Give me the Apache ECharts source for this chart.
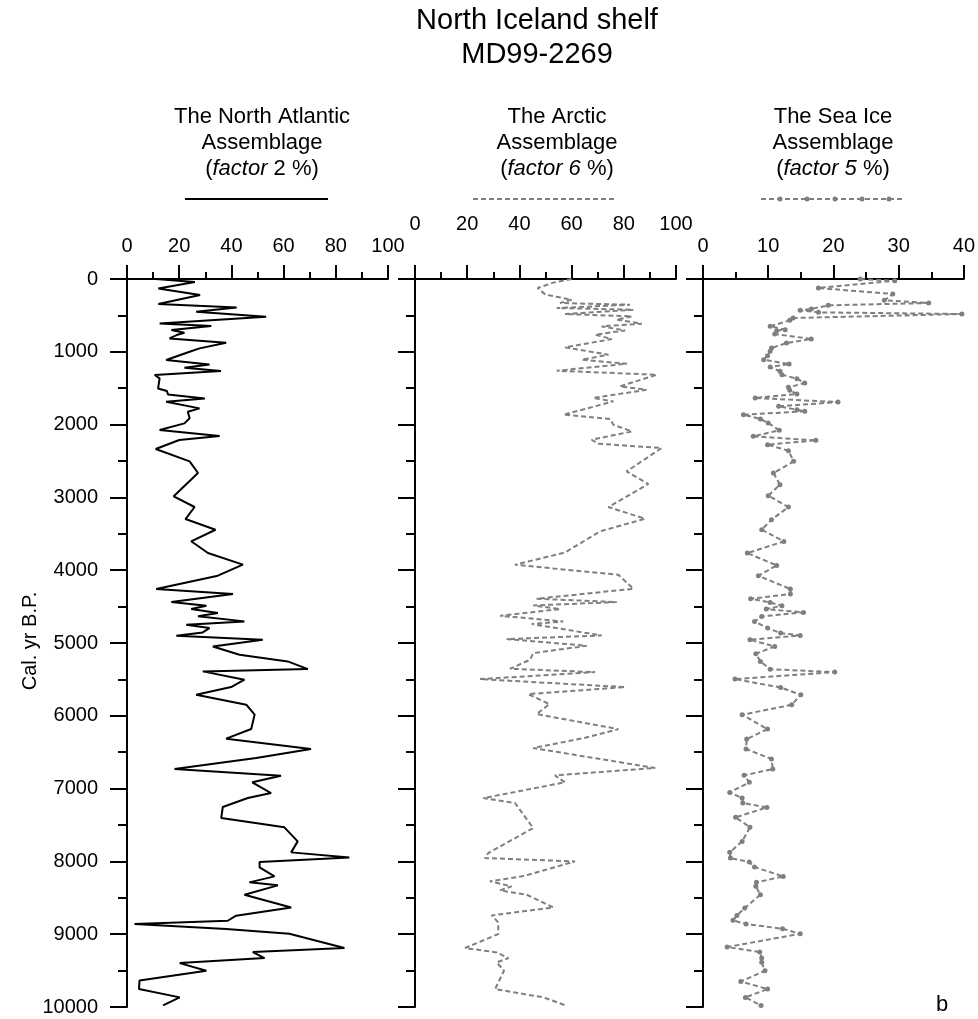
<!DOCTYPE html>
<html lang="en">
<head>
    <meta charset="UTF-8">
    <title>MD99-2269</title>
    <script src="https://cdn.jsdelivr.net/npm/echarts@6/dist/echarts.min.js"></script>
    <style>
        html, body {
            margin: 0;
            padding: 0;
            background: #fff;
        }

        #chart {
            width: 978px;
            height: 1019px;
        }
    </style>
</head>
<body>
<div id="chart"></div>

<script type="text/javascript">
    // [age (cal. yr B.P.), percent]
    const northAtlantic = [[0, 11], [40, 26], [129, 12], [220, 28], [343, 12], [390, 42], [449, 26.5], [518, 53.3],
        [610, 12.5], [646, 32.3], [700, 17], [738, 22], [770, 19], [816, 16.3], [875, 38], [953, 27.8], [999, 24],
        [1113, 15], [1173, 31.6], [1218, 22], [1264, 36], [1319, 10.6], [1365, 12.5], [1503, 11.9], [1539, 15.3],
        [1585, 15.7], [1640, 29.8], [1686, 15], [1777, 27.8], [1823, 23.3], [1914, 24], [1983, 22], [2074, 12.5],
        [2157, 35.5], [2212, 20], [2335, 11], [2505, 24], [2665, 27.2], [2985, 17.9], [3132, 25.9], [3297, 22.4],
        [3444, 33.9], [3603, 24.6], [3764, 31], [3924, 44.4], [4075, 34.8], [4259, 11.2], [4327, 40.6], [4436, 17],
        [4487, 30.4], [4533, 24.6], [4588, 34.8], [4634, 27.2], [4703, 45], [4749, 22.7], [4795, 31.6], [4855, 29],
        [4900, 18.9], [4955, 52], [5047, 32.9], [5161, 43.1], [5253, 61.6], [5358, 69.3], [5390, 29], [5504, 45],
        [5605, 39.9], [5710, 26.5], [5847, 45.7], [5984, 48.9], [6181, 47.6], [6314, 38], [6456, 70.5], [6580, 49.5],
        [6731, 18.2], [6823, 59], [6914, 48], [7061, 55.2], [7130, 46.3], [7253, 36.7], [7404, 36.1], [7532, 60.3],
        [7725, 65.4], [7876, 62.9], [7945, 85.2], [8009, 50.8], [8082, 50.8], [8206, 56.5], [8288, 46.9], [8329, 57.8],
        [8458, 45], [8632, 62.9], [8746, 41.8], [8815, 38.6], [8861, 2.9], [8929, 38], [8993, 62.2], [9190, 83.3],
        [9245, 48.2], [9328, 52.7], [9397, 20.2], [9502, 30.4], [9635, 4.8], [9754, 4.6], [9868, 20.2], [9978, 13.8]];

    const arctic = [[0, 60], [50, 53], [124, 47], [215, 50], [284, 60], [330, 55.6], [353, 82.4], [399, 54.3],
        [422, 83.7], [481, 57.5], [513, 83.1], [559, 77.2], [614, 86.9], [651, 71.5], [706, 80.5], [765, 69],
        [825, 75.4], [939, 57.5], [1040, 74.1], [1109, 63.9], [1164, 81.2], [1260, 54.3], [1315, 92.6], [1475, 78.5],
        [1521, 88.7], [1635, 68.3], [1681, 76], [1864, 56.9], [1924, 74.8], [2002, 76], [2093, 83.1], [2208, 67.7],
        [2263, 70.2], [2322, 94.5], [2642, 81.1], [2816, 89.4], [3132, 74.1], [3293, 88.1], [3467, 70.9], [3756, 57.5],
        [3925, 38.3], [4063, 77.9], [4255, 83.7], [4392, 46.6], [4438, 77.3], [4484, 45.3], [4534, 55.6], [4626, 32.6],
        [4704, 56.8], [4740, 44.7], [4896, 71.5], [4946, 35.1], [5038, 65.8], [5139, 45.3], [5230, 44.1], [5354, 36.4],
        [5400, 69], [5496, 24.9], [5606, 80.5], [5702, 43.4], [5840, 51.5], [5977, 46.6], [6183, 77.9], [6307, 64.5],
        [6443, 45.3], [6717, 92], [6818, 53.6], [6914, 57.5], [7130, 26.2], [7198, 38.3], [7542, 45.3], [7885, 28.1],
        [7954, 26.8], [8000, 61.3], [8197, 42.1], [8274, 28.7], [8343, 37], [8398, 32.6], [8458, 42.8], [8632, 53],
        [8742, 29.4], [8838, 31.9], [8998, 31.9], [9190, 19.2], [9250, 31.3], [9328, 35.8], [9387, 31.3], [9502, 34.1],
        [9754, 30.7], [9868, 49.2], [9978, 57.7]];

    const seaIce = [[0, 24.1], [23, 29.4], [124, 17.7], [206, 29.1], [293, 27.8], [330, 34.6], [362, 19.2], [412, 16.6],
        [430, 14.9], [458, 17.7], [481, 39.7], [536, 13.8], [568, 13.3], [650, 10.3], [696, 12.6], [710, 11.3],
        [755, 11], [824, 16.6], [879, 12.8], [948, 10.5], [994, 10.3], [1053, 9.9], [1108, 9.3], [1168, 13.2],
        [1209, 10.3], [1268, 11.8], [1314, 12.1], [1369, 14.4], [1429, 15.6], [1488, 13.1], [1529, 13.3], [1580, 14.4],
        [1635, 8], [1690, 20.7], [1749, 11.6], [1795, 14.4], [1818, 15.6], [1864, 6.2], [1923, 8.8], [1978, 10],
        [2079, 11.7], [2161, 7.7], [2216, 17.3], [2276, 9.9], [2358, 13.1], [2505, 13.9], [2665, 10.8], [2825, 11.8],
        [2976, 10], [3132, 13.1], [3307, 10.5], [3444, 9], [3605, 12.4], [3765, 6.8], [3934, 11.3], [4076, 8.5],
        [4259, 13.4], [4328, 13.4], [4392, 7.3], [4443, 10.3], [4488, 12.1], [4534, 9.7], [4580, 15.4], [4635, 9],
        [4704, 7.9], [4795, 9.9], [4864, 11.9], [4896, 14.9], [4955, 7.2], [5047, 11], [5148, 8.1], [5253, 8.8],
        [5359, 10.3], [5400, 20.2], [5496, 4.9], [5611, 11.9], [5711, 15], [5849, 13.6], [5986, 6], [6183, 9.9],
        [6320, 6.7], [6456, 6.6], [6594, 10.5], [6731, 10.7], [6818, 6.3], [6914, 7.1], [7052, 4.1], [7130, 6],
        [7198, 6.1], [7258, 9.8], [7395, 5], [7532, 7.2], [7725, 6], [7876, 4.1], [7954, 4.2], [8009, 7.1],
        [8078, 7.9], [8206, 12.3], [8288, 8.2], [8343, 8.1], [8458, 8.8], [8641, 6.4], [8742, 5.2], [8810, 4.6],
        [8861, 6.6], [8925, 12.2], [8994, 14.9], [9177, 3.7], [9245, 8.7], [9328, 9], [9387, 9], [9502, 9.5],
        [9649, 5.8], [9754, 9.9], [9868, 6.5], [9978, 8.9]];

    const ageMajorTicks = [0, 1000, 2000, 3000, 4000, 5000, 6000, 7000, 8000, 9000, 10000];
    const ageMinorTicks = [500, 1500, 2500, 3500, 4500, 5500, 6500, 7500, 8500, 9500];

    const panelTitles = [
        'The North Atlantic\nAssemblage\n({i|factor} 2 %)',
        'The Arctic\nAssemblage\n({i|factor 6} %)',
        'The Sea Ice\nAssemblage\n({i|factor 5} %)'
    ];

    const FONT = 'Liberation Sans, Arial, sans-serif';
    const GREY = '#7f7f7f';

    const panels = [
        {left: 127, width: 261, max: 100, interval: 20, labelMargin: 19, center: 262},
        {left: 415, width: 261, max: 100, interval: 20, labelMargin: 41, center: 557},
        {left: 703, width: 262, max: 40, interval: 10, labelMargin: 19, center: 833}
    ];

    let chart = echarts.init(document.getElementById('chart'), null, {renderer: 'canvas'});

    let grids = [], xAxes = [], yAxes = [];
    panels.forEach(function (p, i) {
        grids.push({left: p.left, top: 275, width: p.width, height: 732});
        xAxes.push({
            type: 'value', gridIndex: i, position: 'top',
            min: 0, max: p.max, interval: p.interval,
            axisLine: {lineStyle: {color: '#000', width: 2}},
            axisTick: {length: 14, lineStyle: {color: '#000', width: 2}},
            minorTick: {show: true, splitNumber: 2, length: 7, lineStyle: {color: '#000', width: 2}},
            axisLabel: {color: '#000', fontSize: 20, fontFamily: FONT, margin: p.labelMargin},
            splitLine: {show: false}
        });
        // main age axis
        yAxes.push({
            type: 'value', gridIndex: i, position: 'left', inverse: true, min: -55, max: 10000,
            name: i === 0 ? 'Cal. yr B.P.' : '',
            nameLocation: 'middle', nameGap: 87, nameRotate: 90, nameMoveOverlap: false,
            nameTextStyle: {color: '#000', fontSize: 20, fontFamily: FONT},
            axisLine: {lineStyle: {color: '#000', width: 2}},
            axisTick: {length: 17, customValues: ageMajorTicks, lineStyle: {color: '#000', width: 2}},
            axisLabel: {
                show: i === 0, customValues: ageMajorTicks, color: '#000',
                fontSize: 20, fontFamily: FONT, margin: 29,
                formatter: function (v) {
                    return String(v);
                }
            },
            splitLine: {show: false}
        });
    });
    // short ticks at the half-thousands
    panels.forEach(function (p, i) {
        yAxes.push({
            type: 'value', gridIndex: i, position: 'left', offset: 0, inverse: true, min: -55, max: 10000,
            axisLine: {show: false},
            axisTick: {length: 9, customValues: ageMinorTicks, lineStyle: {color: '#000', width: 2}},
            axisLabel: {show: false},
            splitLine: {show: false}
        });
    });

    function toXY(rows) {
        return rows.map(function (r) {
            return [r[1], r[0]];
        });
    }

    let headerText = panelTitles.map(function (t, i) {
        return {
            type: 'text', x: panels[i].center, y: 104,
            style: {
                text: t, fill: '#000', fontSize: 22, fontFamily: FONT,
                align: 'center', verticalAlign: 'top', lineHeight: 26,
                rich: {i: {fontStyle: 'italic', fontSize: 22, fontFamily: FONT, fill: '#000', lineHeight: 26}}
            }
        };
    });

    // legend keys under the headers
    let legendKeys = [
        {type: 'line', shape: {x1: 185, y1: 199, x2: 328, y2: 199}, style: {stroke: '#000', lineWidth: 2}},
        {type: 'line', shape: {x1: 473, y1: 199, x2: 617, y2: 199}, style: {stroke: GREY, lineWidth: 2, lineDash: [5, 3]}},
        {type: 'line', shape: {x1: 761, y1: 199, x2: 904, y2: 199}, style: {stroke: GREY, lineWidth: 2, lineDash: [5, 3]}}
    ];
    [780, 807, 835, 862, 889].forEach(function (cx) {
        legendKeys.push({type: 'circle', shape: {cx: cx, cy: 199, r: 2.5}, style: {fill: GREY}});
    });

    let option = {
        animation: false,
        backgroundColor: '#fff',
        grid: grids,
        xAxis: xAxes,
        yAxis: yAxes,
        graphic: [
            {
                type: 'text', x: 537, y: 4,
                style: {
                    text: 'North Iceland shelf\nMD99-2269', fill: '#000', fontSize: 29, fontFamily: FONT,
                    align: 'center', verticalAlign: 'top', lineHeight: 34
                }
            },
            {
                type: 'text', x: 942, y: 1005,
                style: {text: 'b', fill: '#000', fontSize: 22, fontFamily: FONT, align: 'center', verticalAlign: 'middle'}
            }
        ].concat(headerText, legendKeys),
        series: [
            {
                name: 'The North Atlantic Assemblage', type: 'line', xAxisIndex: 0, yAxisIndex: 0,
                data: toXY(northAtlantic), symbol: 'none',
                lineStyle: {color: '#000', width: 2}
            },
            {
                name: 'The Arctic Assemblage', type: 'line', xAxisIndex: 1, yAxisIndex: 1,
                data: toXY(arctic), symbol: 'none',
                lineStyle: {color: GREY, width: 2, type: [5, 3]}
            },
            {
                name: 'The Sea Ice Assemblage', type: 'line', xAxisIndex: 2, yAxisIndex: 2,
                data: toXY(seaIce), symbol: 'circle', symbolSize: 5, showAllSymbol: true,
                itemStyle: {color: GREY},
                lineStyle: {color: GREY, width: 2, type: [5, 3]}
            }
        ]
    };
    chart.setOption(option);
</script>
</body>
</html>
